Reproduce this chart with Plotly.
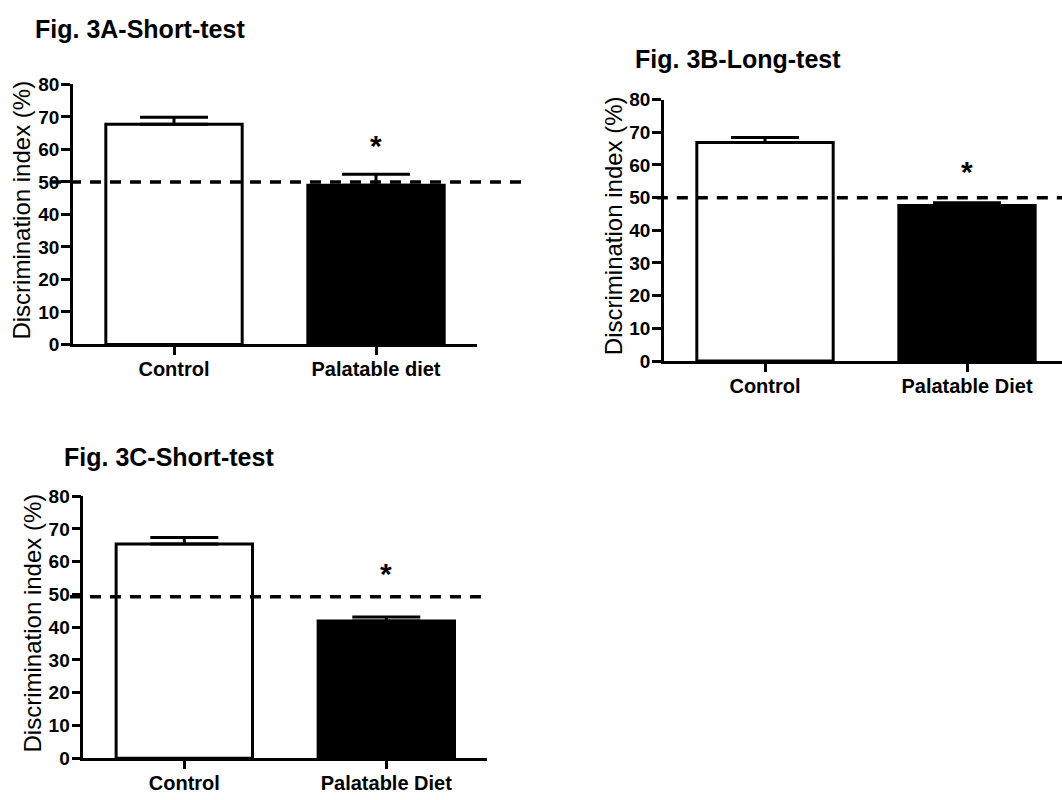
import plotly.graph_objects as go

W, H = 1062, 800

# ---------------- data ----------------
titles = ["Fig. 3A-Short-test", "Fig. 3B-Long-test", "Fig. 3C-Short-test"]
categories_A = ["Control", "Palatable diet"]
categories_B = ["Control", "Palatable Diet"]
categories_C = ["Control", "Palatable Diet"]
means_A = [67.8, 49.0]
sem_A = [2.1, 3.4]
means_B = [66.9, 47.6]
sem_B = [1.5, 0.8]
means_C = [65.4, 41.9]
sem_C = [2.0, 1.2]
chance_level = [50, 50, 49.3]          # dashed reference line per panel
star_level = [61.6, 58.3, 56.6]        # height of the "*" above the diet bar
star_index = [1, 1, 1]                 # which bar carries the "*"
y_ticks = [0, 10, 20, 30, 40, 50, 60, 70, 80]
y_label = "Discrimination index (%)"
bar_fill = ["white", "black"]

categories = [categories_A, categories_B, categories_C]
means = [means_A, means_B, means_C]
sems = [sem_A, sem_B, sem_C]

# ---------------- layout (pixel boxes) ----------------
FONT = "Liberation Sans, Arial, sans-serif"
# plot boxes: (left, right, top, bottom) in pixels
boxes = [(73, 477, 76.5, 343.5), (664, 1062, 92, 360.5), (83.3, 487.3, 499.3, 768.3)]
slot_px = 202.0
title_pos = [(33, 20), (633, 50.5), (62, 459.5)]
ytitle_pos = [(22, 206), (613, 222), (32, 630)]
dash_x = [(-0.057, 1.114), (-0.018, 1.0), (-0.033, 1.0)]
Y0, Y1 = 0, 80

fig = go.Figure()
layout = dict(
    width=W, height=H, margin=dict(l=0, r=0, t=0, b=0),
    paper_bgcolor="white", plot_bgcolor="white", showlegend=False,
    annotations=[], shapes=[],
)

for i in range(3):
    sfx = "" if i == 0 else str(i + 1)
    xa, ya = "x" + sfx, "y" + sfx
    l, r, t, b = boxes[i]
    xr0 = -0.5
    xr1 = -0.5 + (r - l) / slot_px
    xpos = list(range(len(categories[i])))
    fig.add_trace(go.Bar(
        x=xpos, y=means[i], width=0.675,
        marker=dict(color=bar_fill, line=dict(color="black", width=3)),
        error_y=dict(type="data", array=sems[i], arrayminus=[0] * len(xpos),
                     symmetric=False, color="black", thickness=3, width=34),
        xaxis=xa, yaxis=ya, hoverinfo="skip",
    ))
    layout["xaxis" + sfx] = dict(
        domain=[l / W, r / W], anchor=ya, range=[xr0, xr1],
        tickvals=xpos, ticktext=categories[i], ticks="outside", ticklen=8,
        tickwidth=2.5, tickcolor="black", showline=True, linecolor="black",
        linewidth=2.5, showgrid=False, zeroline=False, ticklabelstandoff=-3,
        tickfont=dict(family=FONT, size=20, color="black", weight="bold"),
        fixedrange=True,
    )
    layout["yaxis" + sfx] = dict(
        domain=[1 - b / H, 1 - t / H], anchor=xa, range=[Y0, Y1],
        tickvals=y_ticks, ticks="outside", ticklen=9, tickwidth=2.5,
        tickcolor="black", showline=True, linecolor="black", linewidth=2.5,
        showgrid=False, zeroline=False, ticklabelstandoff=-2,
        tickfont=dict(family=FONT, size=19, color="black", weight="bold"),
        fixedrange=True,
    )
    # dashed chance line (may extend past the axis, as in the original)
    yfrac = (chance_level[i] - Y0) / (Y1 - Y0)
    layout["shapes"].append(dict(
        type="line", xref=xa + " domain", yref=ya + " domain",
        x0=dash_x[i][0], x1=dash_x[i][1], y0=yfrac, y1=yfrac,
        line=dict(color="black", width=3.5, dash="11px,9px"), layer="above",
    ))
    # asterisk
    layout["annotations"].append(dict(
        x=star_index[i], y=star_level[i], xref=xa, yref=ya, text="*",
        showarrow=False, xanchor="center", yanchor="middle", yshift=-1,
        font=dict(family=FONT, size=30, color="black", weight="bold"),
    ))
    # panel title
    tx, ty = title_pos[i]
    layout["annotations"].append(dict(
        x=tx / W, y=1 - ty / H, xref="paper", yref="paper", text=titles[i],
        showarrow=False, xanchor="left", yanchor="middle",
        font=dict(family=FONT, size=25, color="black", weight="bold"),
    ))
    # y-axis title
    yx, yy = ytitle_pos[i]
    layout["annotations"].append(dict(
        x=yx / W, y=1 - yy / H, xref="paper", yref="paper", text=y_label,
        showarrow=False, xanchor="center", yanchor="middle", textangle=-90,
        font=dict(family=FONT, size=24, color="black"),
    ))

fig.update_layout(**layout)
fig.write_html("out.html")
